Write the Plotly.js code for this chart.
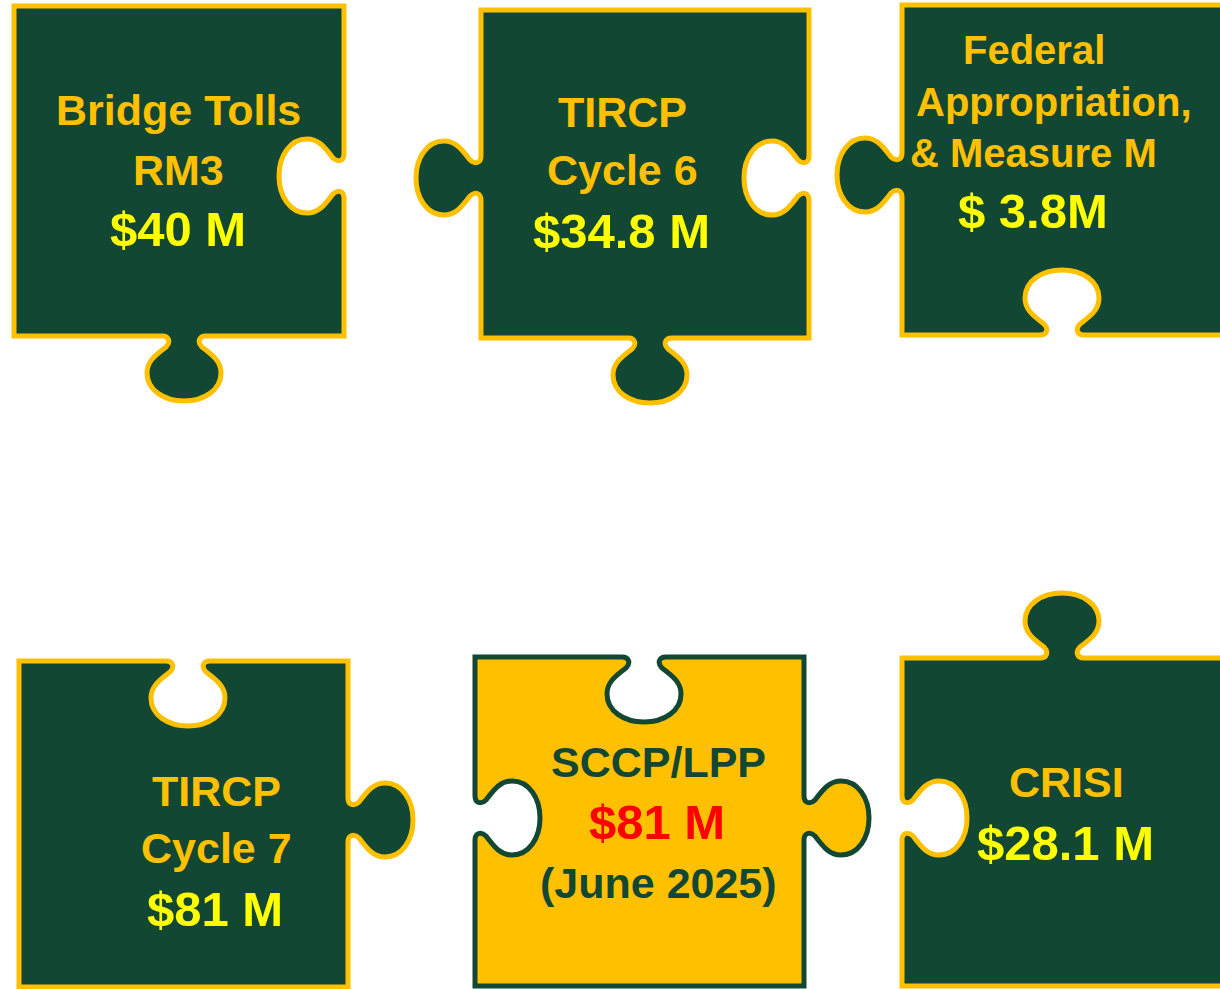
<!DOCTYPE html>
<html><head><meta charset="utf-8">
<script src="https://cdn.plot.ly/plotly-3.0.1.min.js"></script>
<style>html,body{margin:0;padding:0;background:#fff}#chart{width:1220px;height:989px}</style>
</head><body><div id="chart"></div>
<script>
// ---- content ----
const labelLines = [["Bridge Tolls","RM3"],["TIRCP","Cycle 6"],["Federal","Appropriation,","& Measure M"],["TIRCP","Cycle 7"],["SCCP/LPP"],["CRISI"]];
const amounts = ["$40 M","$34.8 M","$ 3.8M","$81 M","$81 M","$28.1 M"];
const notes = ["","","","","(June 2025)",""];
const highlighted = [false,false,false,false,true,false];

// ---- styling / layout geometry ----
const GREEN = "#124734", GOLD = "#FFC000", BRIGHT = "#FFFF00", RED = "#FF0000";
const FONT = "Liberation Sans, Arial, sans-serif";
const pieces = [
  {rect:[14,6,344,336], knobs:{right:{c:176,dir:-1}, bottom:{c:184,dir:1}},
   lines:[[178,110],[178,170]], val:[178,229], lsize:43},
  {rect:[481,10,809,338], knobs:{left:{c:178,dir:1}, right:{c:178,dir:-1}, bottom:{c:650,dir:1}},
   lines:[[622,112],[622,170]], val:[621,231], lsize:43},
  {rect:[902,5,1240,335], knobs:{left:{c:175,dir:1}, bottom:{c:1062,dir:-1}},
   lines:[[1034,50],[1054,102],[1033,153]], val:[1033,211], lsize:40},
  {rect:[19,661,348,987], knobs:{top:{c:188,dir:-1}, right:{c:820,dir:1}},
   lines:[[216,791],[216,848]], val:[215,909], lsize:43},
  {rect:[475,657,804,986], knobs:{top:{c:644,dir:-1}, left:{c:818,dir:-1}, right:{c:818,dir:1}},
   lines:[[658,762]], val:[657,822], note:[658,883], lsize:43},
  {rect:[902,658,1240,986], knobs:{top:{c:1062,dir:1}, left:{c:818,dir:-1}},
   lines:[[1066,782]], val:[1065,843], lsize:43}
];

// knob profile in local coords (u along edge, v outward)
const start = [-22,0];
const segs = [
  [[-15,0],[-13,6],[-18,11]],
  [[-30,20],[-37,26],[-37,37]],
  [[-37,54],[-20,65],[0,65]],
  [[20,65],[37,54],[37,37]],
  [[37,26],[30,20],[18,11]],
  [[13,6],[15,0],[22,0]]
];

function piecePath(p){
  const [x0,y0,x1,y1] = p.rect;
  const edges = [
    {name:"top", from:[x0,y0], to:[x1,y0], t:[1,0], o:[0,-1], pt:c=>[c,y0]},
    {name:"right", from:[x1,y0], to:[x1,y1], t:[0,1], o:[1,0], pt:c=>[x1,c]},
    {name:"bottom", from:[x1,y1], to:[x0,y1], t:[-1,0], o:[0,1], pt:c=>[c,y1]},
    {name:"left", from:[x0,y1], to:[x0,y0], t:[0,-1], o:[-1,0], pt:c=>[x0,c]}
  ];
  let d = `M${x0},${y0}`;
  edges.forEach(e=>{
    const k = p.knobs[e.name];
    if(k){
      const base = e.pt(k.c);
      const map = ([u,v]) => {
        const x = base[0] + u*e.t[0] + v*k.dir*e.o[0];
        const y = base[1] + u*e.t[1] + v*k.dir*e.o[1];
        return `${x.toFixed(2)},${y.toFixed(2)}`;
      };
      d += ` L${map(start)}`;
      segs.forEach(s=>{ d += ` C${map(s[0])} ${map(s[1])} ${map(s[2])}`; });
    }
    d += ` L${e.to[0]},${e.to[1]}`;
  });
  return d + " Z";
}

const shapes = pieces.map((p,i)=>({
  type:"path", xref:"x", yref:"y", path:piecePath(p),
  fillcolor: highlighted[i] ? GOLD : GREEN,
  line:{color: highlighted[i] ? GREEN : GOLD, width:5},
  layer:"below"
}));

const annotations = [];
pieces.forEach((p,i)=>{
  const labelColor = highlighted[i] ? GREEN : GOLD;
  const valueColor = highlighted[i] ? RED : BRIGHT;
  labelLines[i].forEach((txt,j)=>{
    annotations.push({text:"<b>"+txt+"</b>", x:p.lines[j][0], y:p.lines[j][1], xref:"x", yref:"y",
      showarrow:false, xanchor:"center", yanchor:"middle",
      font:{family:FONT, size:p.lsize, color:labelColor}});
  });
  annotations.push({text:"<b>"+amounts[i]+"</b>", x:p.val[0], y:p.val[1], xref:"x", yref:"y",
    showarrow:false, xanchor:"center", yanchor:"middle",
    font:{family:FONT, size:49, color:valueColor}});
  if(notes[i]){
    annotations.push({text:"<b>"+notes[i]+"</b>", x:p.note[0], y:p.note[1], xref:"x", yref:"y",
      showarrow:false, xanchor:"center", yanchor:"middle",
      font:{family:FONT, size:p.lsize, color:labelColor}});
  }
});

const layout = {
  width:1220, height:989,
  margin:{l:0,r:0,t:0,b:0},
  paper_bgcolor:"#ffffff", plot_bgcolor:"#ffffff",
  xaxis:{range:[0,1220], visible:false, fixedrange:true},
  yaxis:{range:[989,0], visible:false, fixedrange:true},
  showlegend:false,
  shapes, annotations
};
Plotly.newPlot("chart", [], layout, {displayModeBar:false, staticPlot:true});
</script>
</body></html>
